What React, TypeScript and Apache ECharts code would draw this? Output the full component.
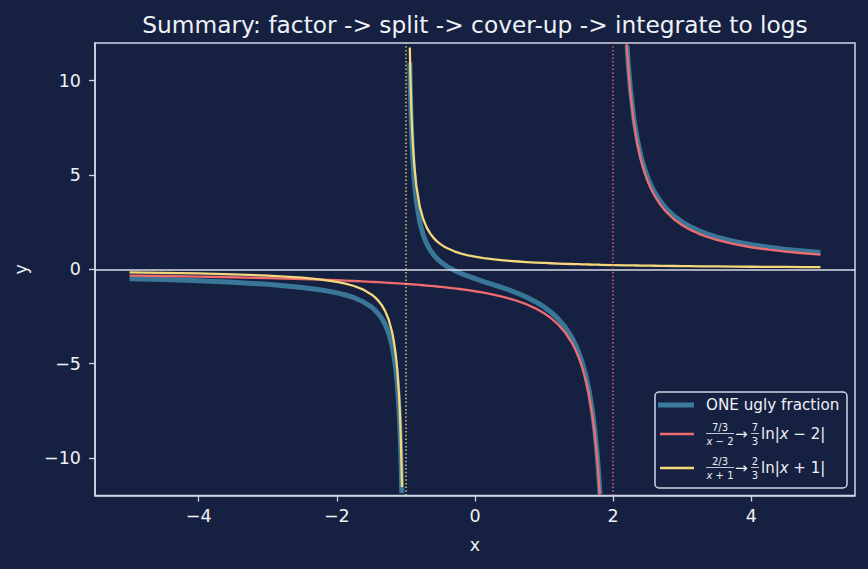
import React, { useEffect, useRef } from 'react';
import * as echarts from 'echarts';

// x positions (shared by all three curves)
const xValues = [
  -5, -4.5, -4, -3.5, -3, -2.5, -2.25, -2, -1.875, -1.75, -1.625, -1.5, -1.45, -1.4, -1.35, -1.3, -1.25, -1.2, -1.175, -1.15, -1.135, -1.12, -1.1, -1.09, -1.08, -1.07, -1.065, -1.06, -1.0577,
  -1,
  -0.9433, -0.94, -0.935, -0.93, -0.92, -0.91, -0.9, -0.88, -0.85, -0.8, -0.75, -0.7, -0.65, -0.6, -0.55, -0.5, -0.45, -0.4, -0.3, -0.2, -0.1, 0, 0.125, 0.25, 0.375, 0.5, 0.625, 0.75, 0.875, 1, 1.1, 1.2, 1.3, 1.4, 1.45, 1.5, 1.55, 1.6, 1.65, 1.7, 1.73, 1.76, 1.78, 1.795, 1.805, 1.808,
  2,
  2.195, 2.2, 2.22, 2.25, 2.3, 2.35, 2.4, 2.45, 2.5, 2.55, 2.6, 2.675, 2.75, 2.875, 3, 3.125, 3.25, 3.375, 3.5, 3.75, 4, 4.25, 4.5, 4.75, 5,
];

// "ONE ugly fraction" (thick blue)
const fractionValues = [
  -0.5, -0.549, -0.611, -0.691, -0.8, -0.963, -1.082, -1.25, -1.364, -1.511, -1.71, -2.0, -2.158, -2.353, -2.601, -2.929, -3.385, -4.063, -4.544, -5.185, -5.683, -6.303, -7.419, -8.163, -9.091, -10.284, -11.018, -11.874, null,
  null,
  10.965, 10.317, 9.461, 8.728, 7.534, 6.606, 5.862, 4.745, 3.626, 2.5, 1.818, 1.358, 1.024, 0.769, 0.567, 0.4, 0.26, 0.139, -0.062, -0.227, -0.37, -0.5, -0.652, -0.8, -0.951, -1.111, -1.287, -1.486, -1.719, -2.0, -2.275, -2.614, -3.044, -3.611, -3.97, -4.4, -4.924, -5.577, -6.415, -7.531, -8.398, -9.481, -10.366, -11.144, -11.728, -11.915,
  null,
  null, 11.875, 10.813, 9.538, 7.98, 6.866, 6.029, 5.378, 4.857, 4.43, 4.074, 3.638, 3.289, 2.839, 2.5, 2.236, 2.024, 1.849, 1.704, 1.474, 1.3, 1.164, 1.055, 0.964, 0.889,
];

// (7/3)/(x-2) (red)
const redValues = [
  -0.333, -0.359, -0.389, -0.424, -0.467, -0.519, -0.549, -0.583, -0.602, -0.622, -0.644, -0.667, -0.676, -0.686, -0.697, -0.707, -0.718, -0.729, -0.735, -0.741, -0.744, -0.748, -0.753, -0.755, -0.758, -0.76, -0.761, -0.763, -0.763,
  -0.778,
  -0.793, -0.794, -0.795, -0.796, -0.799, -0.802, -0.805, -0.81, -0.819, -0.833, -0.848, -0.864, -0.881, -0.897, -0.915, -0.933, -0.952, -0.972, -1.014, -1.061, -1.111, -1.167, -1.244, -1.333, -1.436, -1.556, -1.697, -1.867, -2.074, -2.333, -2.593, -2.917, -3.333, -3.889, -4.242, -4.667, -5.185, -5.833, -6.667, -7.778, -8.642, -9.722, -10.606, -11.382, -11.966, null,
  null,
  11.966, 11.667, 10.606, 9.333, 7.778, 6.667, 5.833, 5.185, 4.667, 4.242, 3.889, 3.457, 3.111, 2.667, 2.333, 2.074, 1.867, 1.697, 1.556, 1.333, 1.167, 1.037, 0.933, 0.848, 0.778,
];

// (2/3)/(x+1) (yellow)
const yellowValues = [
  -0.167, -0.19, -0.222, -0.267, -0.333, -0.444, -0.533, -0.667, -0.762, -0.889, -1.067, -1.333, -1.481, -1.667, -1.905, -2.222, -2.667, -3.333, -3.81, -4.444, -4.938, -5.556, -6.667, -7.407, -8.333, -9.524, -10.256, -11.111, -11.554,
  null,
  11.758, 11.111, 10.256, 9.524, 8.333, 7.407, 6.667, 5.556, 4.444, 3.333, 2.667, 2.222, 1.905, 1.667, 1.481, 1.333, 1.212, 1.111, 0.952, 0.833, 0.741, 0.667, 0.593, 0.533, 0.485, 0.444, 0.41, 0.381, 0.356, 0.333, 0.317, 0.303, 0.29, 0.278, 0.272, 0.267, 0.261, 0.256, 0.252, 0.247, 0.244, 0.242, 0.24, 0.239, 0.238, 0.237,
  0.222,
  0.209, 0.208, 0.207, 0.205, 0.202, 0.199, 0.196, 0.193, 0.19, 0.188, 0.185, 0.181, 0.178, 0.172, 0.167, 0.162, 0.157, 0.152, 0.148, 0.14, 0.133, 0.127, 0.121, 0.116, 0.111,
];

const xTicks = [-4, -2, 0, 2, 4];
const yTicks = [-10, -5, 0, 5, 10];
const yellowPole = -1;
const redPole = 2;

const TITLE = 'Summary: factor -> split -> cover-up -> integrate to logs';
const LEGEND_NAMES = ['ONE ugly fraction', '7/3 / (x−2) → 7/3 ln|x−2|', '2/3 / (x+1) → 2/3 ln|x+1|'];

const BG = '#162040';
const FG = '#eef1f7';
const FRAME = '#cfd7e6';
const BLUE = '#3b7b9c';
const RED = '#ee6b70';
const YELLOW = '#f5d77c';
const FONT = 'DejaVu Sans';

const pair = (vals: (number | null)[]) => xValues.map((x, i) => [x, vals[i]]);
const minus = (v: number) => String(v).replace('-', '\u2212');

function fractionGroup(cx: number, cy: number, num: string, den: any, barL: number, barR: number) {
  return [
    { type: 'text', style: { x: cx, y: cy - 7, text: num, align: 'center', verticalAlign: 'middle', fontSize: 10, fontFamily: FONT, fill: FG } },
    { type: 'line', shape: { x1: barL, y1: cy - 0.5, x2: barR, y2: cy - 0.5 }, style: { stroke: FG, lineWidth: 0.8 } },
    { type: 'text', style: { x: cx, y: cy + 7, text: den, align: 'center', verticalAlign: 'middle', fontSize: 10, fontFamily: FONT, fill: FG, rich: {
      n: { fontSize: 10, fontFamily: FONT, fill: FG },
      i: { fontSize: 10, fontFamily: FONT, fill: FG, fontStyle: 'italic' },
    } } },
  ];
}

function formulaRow(cy: number, a: string, sign: string, b: string) {
  const richBig = {
    n: { fontSize: 15, fontFamily: FONT, fill: FG },
    i: { fontSize: 15, fontFamily: FONT, fill: FG, fontStyle: 'italic' },
  };
  return [
    ...fractionGroup(720, cy, `${a}/3`, `{i|x}{n| ${sign} ${b}}`, 706, 734),
    { type: 'text', style: { x: 735, y: cy, text: '→', align: 'left', verticalAlign: 'middle', fontSize: 15, fontFamily: FONT, fill: FG } },
    ...fractionGroup(755, cy, a, '{n|3}', 751, 759),
    { type: 'text', style: { x: 761, y: cy, text: `{n|ln|}{i|x}{n| ${sign} ${b}|}`, align: 'left', verticalAlign: 'middle', fill: FG, rich: richBig } },
  ];
}

export default function App() {
  const ref = useRef<HTMLDivElement>(null);
  useEffect(() => {
    document.body.style.margin = '0';
    document.body.style.background = BG;
    const chart = echarts.init(ref.current!, null, { renderer: 'svg' });
    const tickLine = { color: FRAME, width: 1.3 };
    const labelStyle = { color: FG, fontSize: 17.5, fontFamily: FONT };
    const curve = (name: string, vals: (number | null)[], color: string, width: number, z: number, opacity = 1) => ({
      name, type: 'line', data: pair(vals), showSymbol: false, symbol: 'none',
      smooth: false, connectNulls: false, silent: true, z,
      lineStyle: { color, width, opacity, join: 'round', cap: 'butt' },
    });
    chart.setOption({
      animation: false,
      backgroundColor: BG,
      textStyle: { fontFamily: FONT },
      grid: { left: 95, right: 13, top: 43, bottom: 73.5, show: true, borderColor: FRAME, borderWidth: 1.5, backgroundColor: 'transparent' },
      xAxis: {
        type: 'value', min: -5.5, max: 5.5,
        name: 'x', nameLocation: 'middle', nameGap: 40,
        nameTextStyle: { ...labelStyle },
        axisLine: { show: true, onZero: false, lineStyle: { color: FRAME, width: 1.5 } },
        axisTick: { show: true, customValues: xTicks, length: 6, lineStyle: tickLine },
        axisLabel: { customValues: xTicks, formatter: minus, margin: 11, ...labelStyle },
        splitLine: { show: false },
      },
      yAxis: {
        type: 'value', min: -12, max: 12,
        name: 'y', nameLocation: 'middle', nameGap: 65, nameRotate: 90,
        nameTextStyle: { ...labelStyle },
        axisLine: { show: true, onZero: false, lineStyle: { color: FRAME, width: 1.5 } },
        axisTick: { show: true, customValues: yTicks, length: 6, lineStyle: tickLine },
        axisLabel: { customValues: yTicks, formatter: minus, margin: 14, ...labelStyle },
        splitLine: { show: false },
      },
      series: [
        {
          name: 'guides', type: 'line', data: [], silent: true, z: 1,
          markLine: {
            silent: true, symbol: ['none', 'none'], label: { show: false }, animation: false,
            data: [
              { yAxis: 0, lineStyle: { color: FG, width: 1.5, type: 'solid', opacity: 0.9 } },
              { xAxis: yellowPole, lineStyle: { color: YELLOW, width: 1.5, type: [1.5, 2.2], opacity: 0.9 } },
              { xAxis: redPole, lineStyle: { color: RED, width: 1.5, type: [1.5, 2.2], opacity: 0.9 } },
            ],
          },
        },
        curve(LEGEND_NAMES[0], fractionValues, BLUE, 5, 2, 0.95),
        curve(LEGEND_NAMES[1], redValues, RED, 2.3, 3),
        curve(LEGEND_NAMES[2], yellowValues, YELLOW, 2.3, 4),
      ],
      graphic: [
        { type: 'text', z: 10, style: { x: 475, y: 24, text: TITLE, align: 'center', verticalAlign: 'middle', fontSize: 23.3, fontFamily: FONT, fill: FG } },
        {
          type: 'group', z: 10,
          children: [
            { type: 'rect', shape: { x: 655, y: 392, width: 192, height: 96, r: 4 }, style: { fill: BG, stroke: FRAME, lineWidth: 1.5 } },
            { type: 'line', shape: { x1: 658, y1: 405, x2: 694, y2: 405 }, style: { stroke: BLUE, lineWidth: 5 } },
            { type: 'text', style: { x: 706, y: 405, text: LEGEND_NAMES[0], align: 'left', verticalAlign: 'middle', fontSize: 15.2, fontFamily: FONT, fill: FG } },
            { type: 'line', shape: { x1: 660, y1: 434, x2: 694, y2: 434 }, style: { stroke: RED, lineWidth: 2.4 } },
            ...formulaRow(434, '7', '−', '2'),
            { type: 'line', shape: { x1: 660, y1: 468, x2: 694, y2: 468 }, style: { stroke: YELLOW, lineWidth: 2.4 } },
            ...formulaRow(468, '2', '+', '1'),
          ],
        },
      ],
    });
    return () => chart.dispose();
  }, []);
  return <div ref={ref} style={{ position: 'fixed', left: 0, top: 0, width: 868, height: 569 }} />;
}
